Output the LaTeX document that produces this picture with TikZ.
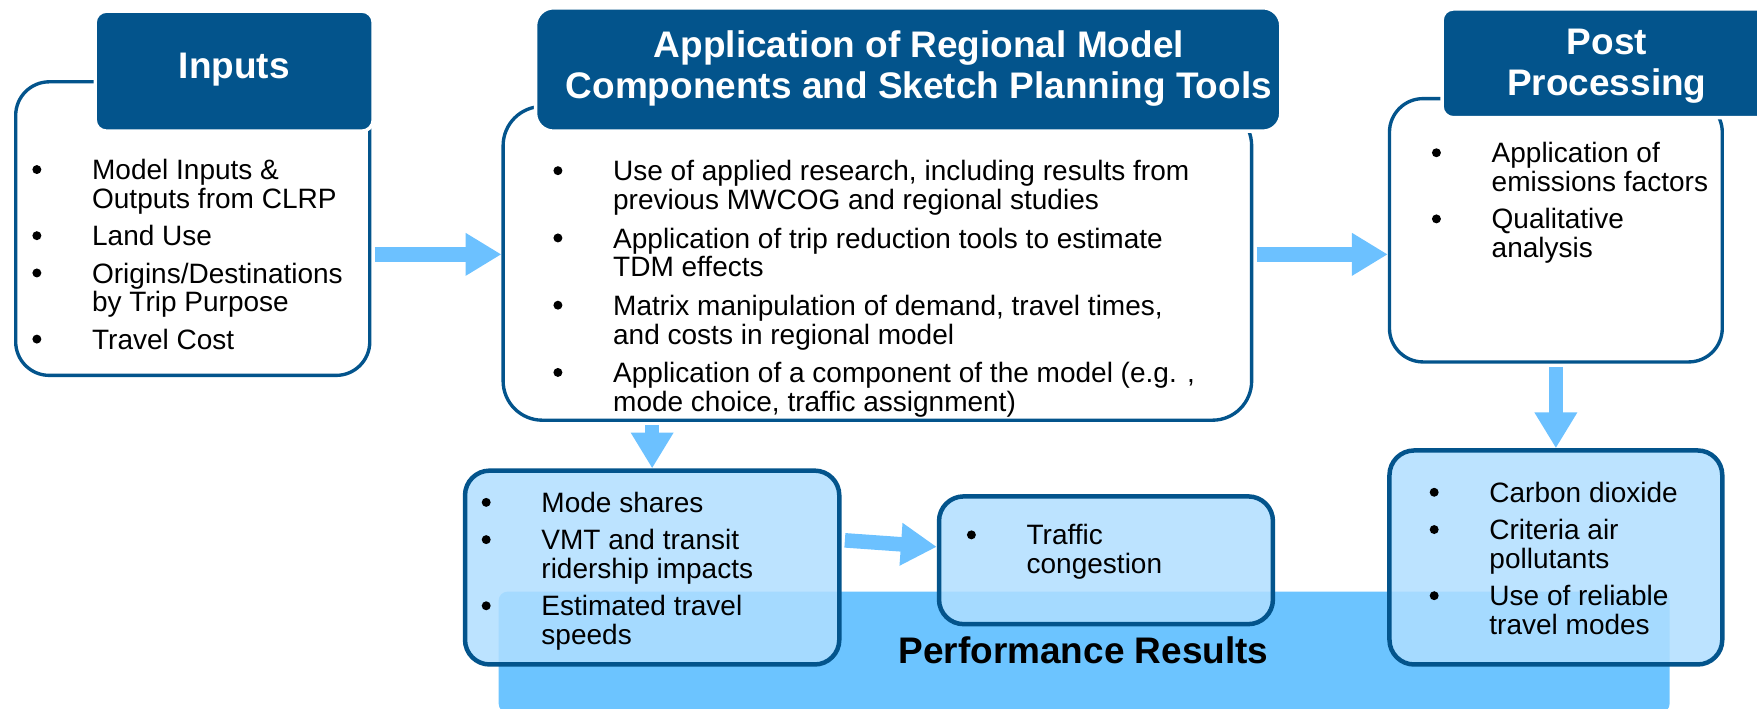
\documentclass[tikz,border=0pt]{standalone}
\usepackage{fontspec}
\setmainfont{Liberation Sans}
\usetikzlibrary{arrows.meta,calc}
\definecolor{hdrblue}{RGB}{3,84,140}
\definecolor{arrblue}{RGB}{108,193,255}
\definecolor{bandblue}{RGB}{108,196,255}
\definecolor{boxfill}{RGB}{176,222,255}
\newcommand{\lbul}{\makebox[54pt][l]{\hspace{0.7pt}\tikz[baseline=0pt]\fill[black] (4pt,9pt) circle[radius=4pt];}}
\tikzset{
  outlinebox/.style={draw=hdrblue, line width=3pt, rounded corners=30pt, fill=white, inner sep=0pt},
  header/.style={fill=hdrblue, draw=white, line width=3pt, rounded corners=10pt, inner sep=0pt},
  resultbox/.style={draw=hdrblue, line width=4pt, rounded corners=22pt, fill=boxfill, fill opacity=0.85, draw opacity=1, inner sep=0pt},
  bandbox/.style={fill=bandblue, rounded corners=8pt, inner sep=0pt},
  hdrtext/.style={text=white, font=\fontsize{33}{37}\selectfont\bfseries, align=center, inner sep=0pt},
  bandtext/.style={text=black, font=\fontsize{33}{37}\selectfont\bfseries, inner sep=0pt},
  listtext/.style={anchor=north west, inner sep=0pt, font=\fontsize{25}{25.5}\selectfont},
  bigarrow/.style={draw=arrblue, line width=13pt, -{Triangle[width=36pt,length=32pt]}, shorten <=3pt},
}
\begin{document}
\begin{tikzpicture}[x=1pt,y=-1pt]
\useasboundingbox (0,0) rectangle (1568,632);
% performance band
\node[bandbox, minimum width=1045pt, minimum height=108pt] (band) at (967.5,582) {};
% outline boxes
\node[outlinebox, minimum width=316pt, minimum height=262pt] (inbox) at (172,204) {};
\node[outlinebox, minimum width=668pt, minimum height=280pt, rounded corners=35pt] (appbox) at (783,235) {};
\node[outlinebox, minimum width=297pt, minimum height=235pt] (postbox) at (1388.5,205.5) {};
% headers
\node[header, minimum width=248pt, minimum height=107pt] (inhdr) at (209,63.5) {};
\node[header, minimum width=665pt, minimum height=110pt, rounded corners=16pt] (apphdr) at (810.5,62) {};
\node[header, minimum width=293pt, minimum height=97pt] (posthdr) at (1433.5,56.5) {};
% result boxes
\node[resultbox, minimum width=334pt, minimum height=173pt] (modebox) at (582,506.5) {};
\node[resultbox, minimum width=298pt, minimum height=114pt] (trafbox) at (987,500) {};
\node[resultbox, minimum width=297pt, minimum height=191pt] (co2box) at (1388.5,497.5) {};
% arrows
\draw[bigarrow] ([yshift=-23pt]inbox.east) -- ([yshift=8pt]appbox.west);
\draw[bigarrow] ([yshift=8pt]appbox.east) -- ([yshift=-21.5pt]postbox.west);
\draw[bigarrow] (postbox.south) -- (co2box.north);
\draw[bigarrow] (appbox.south -| modebox.north) -- (modebox.north);
\draw[bigarrow] ([yshift=24.5pt]modebox.east) -- ([yshift=12pt]trafbox.west);
% header texts
\node[hdrtext] (inhdrtxt) at (209,62) {Inputs};
\node[hdrtext] (apphdrtxt) at (820,61) {Application of Regional Model\\Components and Sketch Planning Tools};
\node[hdrtext] (posthdrtxt) at (1434,59) {Post\\Processing};
\node[bandtext] (bandtxt) at (967,580) {Performance Results};
% list texts
\node[listtext] (intxt) at (28,142) {\begin{tabular}{@{}l@{}l@{}}
\lbul & Model Inputs \&\\
 & Outputs from CLRP\\[7.5pt]
\lbul & Land Use\\[7.5pt]
\lbul & Origins/Destinations\\
 & by Trip Purpose\\[7.5pt]
\lbul & Travel Cost
\end{tabular}};
\node[listtext] (apptxt) at (493,143) {\begin{tabular}{@{}l@{}l@{}}
\lbul & Use of applied research, including results from\\
 & previous MWCOG and regional studies\\[8.5pt]
\lbul & Application of trip reduction tools to estimate\\
 & TDM effects\\[8.5pt]
\lbul & Matrix manipulation of demand, travel times,\\
 & and costs in regional model\\[8.5pt]
\lbul & Application of a component of the model (e.g. ,\\
 & mode choice, traffic assignment)
\end{tabular}};
\node[listtext] (posttxt) at (1277,127) {\begin{tabular}{@{}l@{}l@{}}
\lbul & Application of\\
 & emissions factors\\[7.5pt]
\lbul & Qualitative\\
 & analysis
\end{tabular}};
\node[listtext] (modetxt) at (429,439) {\begin{tabular}{@{}l@{}l@{}}
\lbul & Mode shares\\[7.5pt]
\lbul & VMT and transit\\
 & ridership impacts\\[7.5pt]
\lbul & Estimated travel\\
 & speeds
\end{tabular}};
\node[listtext] (traftxt) at (862,468) {\begin{tabular}{@{}l@{}l@{}}
\lbul & Traffic\\
 & congestion
\end{tabular}};
\node[listtext] (co2txt) at (1275,430) {\begin{tabular}{@{}l@{}l@{}}
\lbul & Carbon dioxide\\[7.5pt]
\lbul & Criteria air\\
 & pollutants\\[7.5pt]
\lbul & Use of reliable\\
 & travel modes
\end{tabular}};
\end{tikzpicture}
\end{document}
